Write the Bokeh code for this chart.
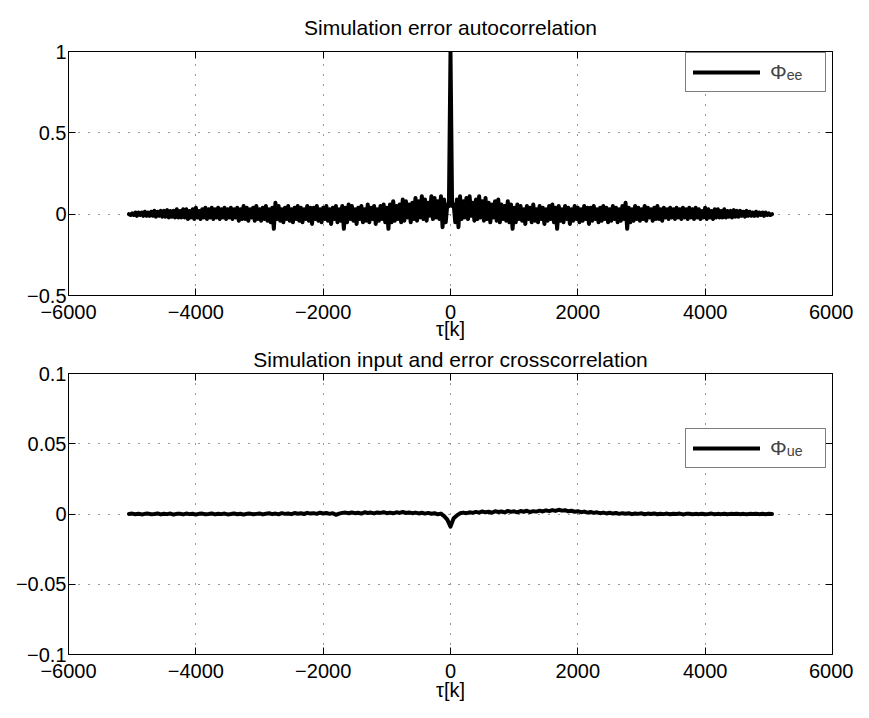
from bokeh.plotting import figure
from bokeh.models import LinearAxis, FixedTicker, Legend, LegendItem
from bokeh.layouts import column
from bokeh.embed import file_html
from bokeh.resources import INLINE

# ---------------- data ----------------
# autocorrelation of the simulation error, lag step 25
tau_ee = list(range(-5050, 5051, 25))
phi_ee = [
    0.0, -0.005,
    0.005, -0.005, 0.01, -0.01, 0.01, -0.005, 0.01, -0.01, 0.015, -0.01,
    0.01, -0.01, 0.015, -0.01, 0.02, -0.015, 0.015, -0.01, 0.02, -0.015,
    0.02, -0.015, 0.025, -0.02, 0.02, -0.015, 0.02, -0.02, 0.03, -0.02,
    0.02, -0.02, 0.03, -0.02, 0.03, -0.03, 0.02, -0.02, 0.03, -0.03,
    0.04, -0.02, 0.02, -0.03, 0.03, -0.02, 0.04, -0.03, 0.03, -0.02,
    0.04, -0.03, 0.03, -0.02, 0.04, -0.03, 0.03, -0.02, 0.04, -0.03,
    0.03, -0.02, 0.04, -0.03, 0.03, -0.02, 0.04, -0.04, 0.03, -0.03,
    0.05, -0.03, 0.04, -0.04, 0.03, -0.02, 0.04, -0.04, 0.05, -0.03,
    0.03, -0.04, 0.04, -0.03, 0.05, -0.04, 0.03, -0.05, 0.04, -0.09,
    0.07, -0.03, 0.05, -0.04, 0.03, -0.05, 0.04, -0.03, 0.05, -0.04,
    0.03, -0.05, 0.04, -0.03, 0.05, -0.04, 0.04, -0.05, 0.03, -0.03,
    0.05, -0.04, 0.04, -0.06, 0.04, -0.03, 0.05, -0.04, 0.03, -0.05,
    0.04, -0.03, 0.05, -0.04, 0.03, -0.06, 0.04, -0.03, 0.05, -0.05,
    0.03, -0.04, 0.05, -0.09, 0.04, -0.05, 0.06, -0.03, 0.05, -0.04,
    0.03, -0.06, 0.04, -0.03, 0.05, -0.05, 0.03, -0.04, 0.06, -0.05,
    0.04, -0.03, 0.05, -0.06, 0.03, -0.04, 0.05, -0.03, 0.06, -0.05,
    0.04, -0.09, 0.06, -0.05, 0.08, -0.04, 0.05, -0.03, 0.06, -0.05,
    0.09, -0.04, 0.08, -0.02, 0.06, -0.05, 0.07, -0.03, 0.10, -0.04,
    0.08, -0.02, 0.11, -0.03, 0.09, -0.04, 0.07, -0.01, 0.11, -0.03,
    0.10, -0.02, 0.08, -0.03, 0.11, -0.08, 0.09, -0.05, 0.06, 0.05,
    1.0,
    0.05, 0.06, -0.05, 0.09, -0.08, 0.11, -0.03, 0.08, -0.02, 0.10,
    -0.03, 0.11, -0.01, 0.07, -0.04, 0.09, -0.03, 0.11, -0.02, 0.08,
    -0.04, 0.10, -0.03, 0.07, -0.05, 0.06, -0.02, 0.08, -0.04, 0.09,
    -0.05, 0.06, -0.03, 0.05, -0.04, 0.08, -0.05, 0.06, -0.09, 0.04,
    -0.05, 0.06, -0.03, 0.05, -0.04, 0.03, -0.06, 0.05, -0.03, 0.04,
    -0.05, 0.06, -0.04, 0.03, -0.05, 0.05, -0.03, 0.04, -0.06, 0.03,
    -0.04, 0.05, -0.03, 0.06, -0.05, 0.04, -0.09, 0.05, -0.04, 0.03,
    -0.05, 0.05, -0.03, 0.04, -0.06, 0.03, -0.04, 0.05, -0.03, 0.04,
    -0.05, 0.03, -0.04, 0.05, -0.03, 0.04, -0.06, 0.04, -0.04, 0.05,
    -0.03, 0.03, -0.05, 0.04, -0.04, 0.05, -0.03, 0.04, -0.05, 0.03,
    -0.04, 0.05, -0.03, 0.04, -0.05, 0.03, -0.04, 0.05, -0.03, 0.07,
    -0.09, 0.04, -0.05, 0.03, -0.04, 0.05, -0.03, 0.04, -0.04, 0.03,
    -0.03, 0.05, -0.04, 0.04, -0.02, 0.03, -0.04, 0.04, -0.03, 0.05,
    -0.03, 0.03, -0.04, 0.04, -0.02, 0.03, -0.03, 0.04, -0.02, 0.03,
    -0.03, 0.04, -0.02, 0.03, -0.03, 0.04, -0.02, 0.03, -0.03, 0.04,
    -0.02, 0.03, -0.03, 0.04, -0.02, 0.03, -0.03, 0.02, -0.02, 0.04,
    -0.03, 0.03, -0.02, 0.02, -0.03, 0.03, -0.02, 0.03, -0.02, 0.02,
    -0.02, 0.03, -0.02, 0.02, -0.015, 0.02, -0.02, 0.025, -0.015, 0.02,
    -0.015, 0.02, -0.01, 0.015, -0.015, 0.02, -0.01, 0.015, -0.01, 0.01,
    -0.01, 0.015, -0.01, 0.01, -0.005, 0.01, -0.01, 0.01, -0.005, 0.005,
    -0.005, 0.0,
]

# cross-correlation of the simulation input and error, lag step 50
tau_ue = list(range(-5050, 5051, 50))
phi_ue = [
    0.0, 0.0003, -0.0002, 0.0002, -0.0003, 0.0001, 0.0003, -0.0002, 0.0, 0.0004,
    -0.0003, 0.0002, -0.0001, 0.0003, -0.0004, 0.0001, 0.0002, -0.0003, 0.0003, -0.0001,
    0.0002, -0.0004, 0.0001, 0.0003, -0.0002, 0.0, 0.0004, -0.0003, 0.0002, -0.0001,
    0.0003, -0.0003, 0.0, 0.0004, -0.0002, 0.0002, -0.0004, 0.0001, 0.0003, -0.0002,
    0.0001, 0.0004, -0.0003, 0.0002, 0.0005, -0.0001, 0.0003, -0.0002, 0.0006, 0.0001,
    0.0004, -0.0001, 0.0007, 0.0002, 0.0005, 0.0, 0.0008, 0.0003, 0.0006, 0.0001,
    0.0009, 0.0004, 0.0007, 0.0001, 0.0006, -0.0006, 0.0003, 0.0008, 0.001, 0.0005,
    0.0011, 0.0006, 0.0009, 0.0003, 0.0012, 0.0007, 0.001, 0.0004, 0.0011, 0.0008,
    0.0013, 0.0006, 0.001, 0.0005, 0.0012, 0.0008, 0.0014, 0.0007, 0.0011, 0.0006,
    0.001, 0.0004, 0.0009, 0.0003, 0.0008, 0.0002, 0.0006, -0.0002, 0.0003, -0.0015,
    -0.004, -0.009, -0.003, -0.001, 0.0005, 0.001, 0.0006, 0.0012, 0.0008, 0.0015,
    0.001, 0.0018, 0.0012, 0.0016, 0.0009, 0.002, 0.0014, 0.0018, 0.0011, 0.0022,
    0.0015, 0.0019, 0.0012, 0.0021, 0.0016, 0.0023, 0.0014, 0.002, 0.0017, 0.0024,
    0.0018, 0.0026, 0.002, 0.0028, 0.0022, 0.003, 0.0024, 0.0027, 0.0019, 0.0023,
    0.0016, 0.002, 0.0013, 0.0017, 0.001, 0.0014, 0.0008, 0.0012, 0.0006, 0.001,
    0.0004, 0.0009, 0.0003, 0.0007, 0.0001, 0.0006, 0.0002, 0.0005, -0.0001, 0.0004,
    0.0001, 0.0005, -0.0002, 0.0003, 0.0, 0.0004, -0.0002, 0.0002, -0.0001, 0.0003,
    -0.0002, 0.0002, 0.0, 0.0003, -0.0003, 0.0001, 0.0002, -0.0002, 0.0001, -0.0001,
    0.0002, -0.0002, 0.0, 0.0003, -0.0002, 0.0001, -0.0001, 0.0002, -0.0002, 0.0001,
    0.0, 0.0002, -0.0001, 0.0001, -0.0002, 0.0001, 0.0, 0.0002, -0.0001, 0.0001,
    -0.0001, 0.0001, 0.0,
]

x_ticks = [-6000, -4000, -2000, 0, 2000, 4000, 6000]
x_tick_labels = ["\u22126000", "\u22124000", "\u22122000", "0", "2000", "4000", "6000"]
y1_ticks = [-0.5, 0, 0.5, 1]
y1_tick_labels = ["\u22120.5", "0", "0.5", "1"]
y2_ticks = [-0.1, -0.05, 0, 0.05, 0.1]
y2_tick_labels = ["\u22120.1", "\u22120.05", "0", "0.05", "0.1"]

titles = ["Simulation error autocorrelation", "Simulation input and error crosscorrelation"]
x_label = "\u03c4[k]"
legend_labels = ["\u03a6\u2091\u2091", "\u03a6\u1d64\u2091"]

FONT = "Liberation Sans"
FS = "20px"


def style(p, yt, ylab, title_standoff, top_pad, xlabel_standoff):
    p.title.align = "center"
    p.title.text_font = FONT
    p.title.text_font_size = "21px"
    p.title.text_font_style = "normal"
    p.title.text_color = "black"
    p.title.standoff = title_standoff
    p.background_fill_color = "white"
    p.border_fill_color = "white"
    p.outline_line_color = "black"
    p.outline_line_width = 1

    xa = p.xaxis[0]
    ya = p.yaxis[0]
    xa.ticker = FixedTicker(ticks=x_ticks)
    ya.ticker = FixedTicker(ticks=yt)
    xa.major_label_overrides = dict(zip(x_ticks, x_tick_labels))
    ya.major_label_overrides = dict(zip(yt, ylab))
    xa.axis_label = x_label
    for a in (xa, ya):
        a.major_tick_in = 7
        a.major_tick_out = 0
        a.minor_tick_line_color = None
        a.axis_line_color = "black"
        a.major_tick_line_color = "black"
        a.major_label_text_font = FONT
        a.major_label_text_font_size = FS
        a.major_label_text_color = "black"
        a.axis_label_text_font = FONT
        a.axis_label_text_font_size = FS
        a.axis_label_text_font_style = "normal"
        a.axis_label_text_color = "black"
    xa.major_label_standoff = 9
    xa.axis_label_standoff = xlabel_standoff
    ya.major_label_standoff = 2

    ta = LinearAxis(ticker=FixedTicker(ticks=x_ticks))
    ta.major_tick_in = 7
    ta.major_tick_out = 0
    ta.minor_tick_line_color = None
    ta.axis_line_color = "black"
    ta.major_tick_line_color = "black"
    ta.major_label_text_font_size = "0px"
    ta.major_label_text_color = None
    ta.major_label_standoff = top_pad
    p.add_layout(ta, "above")

    ra = LinearAxis(ticker=FixedTicker(ticks=yt), fixed_location=x_ticks[-1])
    ra.major_tick_in = 7
    ra.major_tick_out = 0
    ra.minor_tick_line_color = None
    ra.axis_line_color = "black"
    ra.major_tick_line_color = "black"
    ra.major_label_text_font_size = "0px"
    ra.major_label_text_color = None
    ra.major_label_standoff = 0
    p.add_layout(ra, "right")

    for g in (p.xgrid[0], p.ygrid[0]):
        g.grid_line_color = "#333333"
        g.grid_line_dash = "1 9"
        g.grid_line_width = 1
    p.xgrid[0].ticker = FixedTicker(ticks=x_ticks)
    p.ygrid[0].ticker = FixedTicker(ticks=yt)


W = 853
p1 = figure(width=W, height=342, x_range=(-6000, 6000), y_range=(-0.5, 1), title=titles[0],
            output_backend="svg", toolbar_location=None,
            min_border_left=68, min_border_right=21, min_border_top=0, min_border_bottom=0)
style(p1, y1_ticks, y1_tick_labels, 26, 13, -4)
r1 = p1.line(tau_ee, phi_ee, line_color="black", line_width=4, line_join="round", line_cap="round")

p2 = figure(width=W, height=361, x_range=(-6000, 6000), y_range=(-0.1, 0.1), title=titles[1],
            output_backend="svg", toolbar_location=None,
            min_border_left=68, min_border_right=21, min_border_top=0, min_border_bottom=0)
style(p2, y2_ticks, y2_tick_labels, 6, 8, -2)
r2 = p2.line(tau_ue, phi_ue, line_color="black", line_width=4, line_join="round", line_cap="round")

for p, r, lab, loc in ((p1, r1, legend_labels[0], (617, 203)), (p2, r2, legend_labels[1], (617, 186))):
    lg = Legend(items=[LegendItem(label=lab, renderers=[r])], location=loc)
    lg.border_line_color = "black"
    lg.border_line_width = 1
    lg.background_fill_color = "white"
    lg.background_fill_alpha = 1
    lg.padding = 7
    lg.margin = 0
    lg.glyph_width = 67
    lg.glyph_height = 20
    lg.label_width = 48
    lg.label_height = 20
    lg.label_standoff = 10
    lg.label_text_font = FONT
    lg.label_text_font_size = "21px"
    p.add_layout(lg)

layout = column(p1, p2, spacing=0)
open("out.html", "w").write(file_html(layout, INLINE))
